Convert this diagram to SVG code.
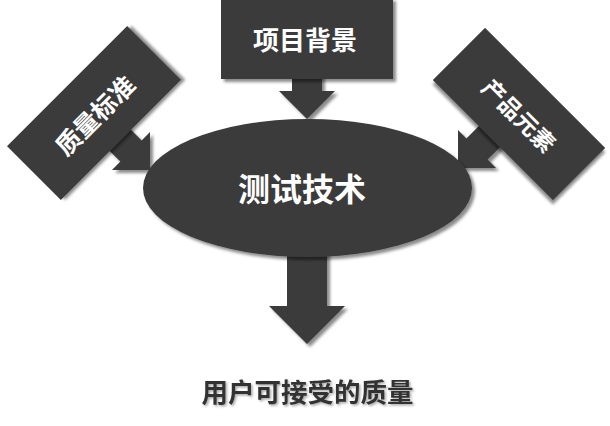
<svg xmlns="http://www.w3.org/2000/svg" width="610" height="426" viewBox="0 0 610 426">
<defs>
<filter id="sh" x="-20%" y="-20%" width="140%" height="140%">
<feDropShadow dx="3" dy="3" stdDeviation="1.8" flood-color="#000" flood-opacity="0.45"/>
</filter>
<filter id="tsh" x="-10%" y="-30%" width="120%" height="160%">
<feDropShadow dx="1.5" dy="1.5" stdDeviation="0.8" flood-color="#000" flood-opacity="0.35"/>
</filter>
</defs>
<style>
.shape{fill:#3a3a3a;}
.lbl{fill:#ffffff;font-family:"Noto Sans CJK SC","Noto Sans",sans-serif;font-weight:bold;text-anchor:middle;}
.out{fill:#333333;font-family:"Noto Sans CJK SC","Noto Sans",sans-serif;font-weight:bold;text-anchor:middle;}
</style>
<rect width="610" height="426" fill="#ffffff"/>
<g id="connectors" class="shape" filter="url(#sh)">
<polygon points="292,70 322,70 322,91 335,91 307,119 279,91 292,91"/>
<polygon points="123.9,122.7 141.6,140.4 150,132 150,170 112,170 120.4,161.6 102.7,143.9"/>
<polygon points="484.1,120.7 505.3,141.9 487.6,159.6 496,168 458,168 458,130 466.4,138.4"/>
<polygon points="287,240 327,240 327,306 345,306 307,344 269,306 287,306"/>
</g>
<g id="core" filter="url(#sh)">
<ellipse class="shape" cx="307.5" cy="188" rx="164.5" ry="69"/>
</g>
<text class="lbl" x="302" y="201" font-size="32">测试技术</text>
<g id="background" filter="url(#sh)">
<rect class="shape" x="221" y="-2" width="172" height="81"/>
</g>
<text class="lbl" x="305" y="50" font-size="26">项目背景</text>
<g id="standard">
<g transform="translate(94,113) rotate(-45)">
<rect class="shape" x="-85" y="-38" width="170" height="76" filter="url(#sh)"/>
<text class="lbl" x="-1" y="12" font-size="25">质量标准</text>
</g>
</g>
<g id="elements">
<g transform="translate(519,114) rotate(45)">
<rect class="shape" x="-85" y="-37" width="170" height="74" filter="url(#sh)"/>
<text class="lbl" x="1" y="10" font-size="23">产品元素</text>
</g>
</g>
<g id="result" filter="url(#tsh)">
<text class="out" x="307.5" y="402" font-size="26.5">用户可接受的质量</text>
</g>
</svg>
